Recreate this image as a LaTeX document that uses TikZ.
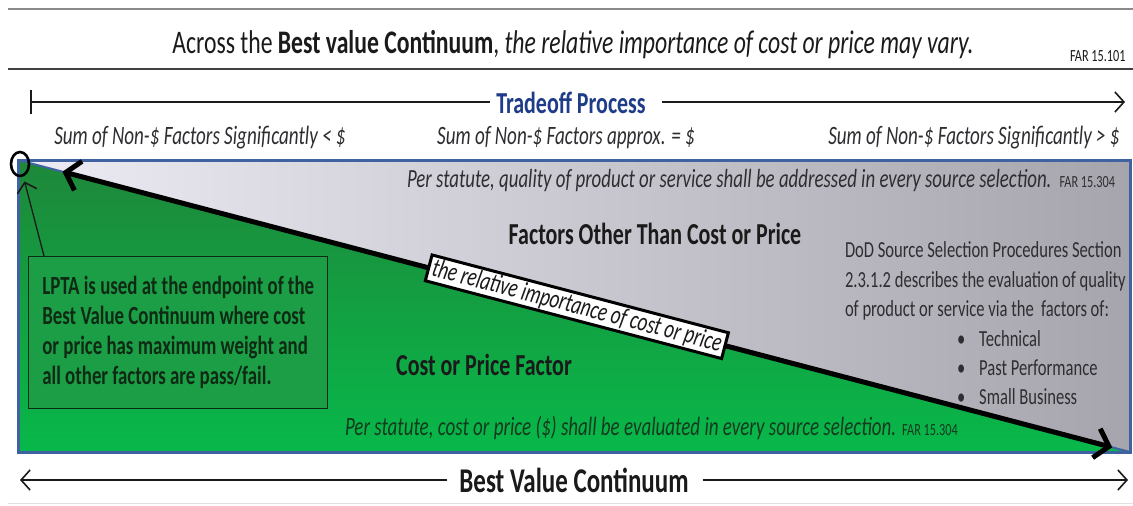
\documentclass[tikz,border=0pt]{standalone}
\usepackage{fontspec}
\setmainfont{Carlito}[FakeStretch=0.72]
\usetikzlibrary{arrows.meta,calc,shapes.geometric}

\definecolor{ink}{HTML}{1A1A1A}
\definecolor{rulegray}{HTML}{8A8A8A}
\definecolor{navy}{HTML}{1F3C88}
\definecolor{frameblue}{HTML}{3F62A0}
\definecolor{greenA}{HTML}{1E873A}
\definecolor{greenB}{HTML}{08B84A}
\definecolor{grayA}{HTML}{EDEBF3}
\definecolor{grayB}{HTML}{A6A5AD}
\definecolor{boxgreen}{HTML}{1C9E46}
\definecolor{darkgreen}{HTML}{0F2A14}
\definecolor{statgreen}{HTML}{143A1E}
\definecolor{textgray}{HTML}{2E2E32}

\newcommand\fsz[2]{\fontsize{#1}{#2}\selectfont}

\begin{document}
\begin{tikzpicture}[x=1pt,y=-1pt,
  txt/.style={inner sep=0pt, outer sep=0pt, text=ink},
  thinarrow/.style={line width=1.6pt, draw=ink,
    -{Straight Barb[length=9pt,width=20pt,line width=1.6pt]}},
  bigarrow/.style={line width=5pt, draw=black,
    {Straight Barb[length=13pt,width=30pt,line width=5pt]}-{Straight Barb[length=13pt,width=30pt,line width=5pt]}},
  bigfont/.style={font=\fsz{30.5}{36}\bfseries},
  sumfont/.style={font=\fsz{26.5}{30}\itshape, text=textgray},
]
\useasboundingbox (0,0) rectangle (1133,506);
\fill[white] (0,0) rectangle (1133,506);

% header rules
\draw[rulegray, line width=1.2pt] (8,9) -- (1133,9);
\draw[black!75, line width=2.8pt] (8,69) -- (1133,69);
\draw[black!12, line width=1pt] (8,503) -- (1133,503);

% title
\node[txt, font=\fsz{32.9}{38}] (title) at (573,45)
  {Across the \textbf{Best value Continuum}, \textit{the relative importance of cost or price may vary.}};
\node[txt, font=\fsz{17}{20}, anchor=west] (far101) at (1070,56) {FAR 15.101};

% tradeoff process scale
\node[txt, bigfont, text=navy] (trade) at (571,103) {Tradeoff Process};
\coordinate (tL) at (30,102);
\coordinate (tR) at (1125,102);
\draw[line width=1.6pt, draw=ink, {Bar[width=24pt,line width=1.6pt]}-] (tL) -- ($(trade.west)+(-6,-1)$);
\draw[thinarrow] ($(trade.east)+(16,-1)$) -- (tR);

\node[txt, sumfont] (sumlo) at (200,138) {Sum of Non-\$ Factors Significantly < \$};
\node[txt, sumfont] (sumeq) at (566,138) {Sum of Non-\$ Factors approx. = \$};
\node[txt, sumfont] (sumhi) at (974,138) {Sum of Non-\$ Factors Significantly > \$};

% continuum panel: non-price share above the diagonal, price share below
\coordinate (hA) at (18,160);
\coordinate (hB) at (1130,452);
\shade[left color=grayA, right color=grayB] (hA) -- (1130,160) -- (hB) -- cycle;
\shade[top color=greenA, bottom color=greenB] (hA) -- (hB) -- (18,452) -- cycle;
\draw[frameblue, line width=2pt] (hA) -- (hB);
\draw[frameblue, line width=3pt] (18,160) rectangle (1130,452);

% panel texts
\node[txt, font=\fsz{26.2}{30}\itshape, text=textgray, anchor=west] (stattop) at (407,181)
  {Per statute, quality of product or service shall be addressed in every source selection.\hspace{8pt}{\upshape\fsz{17}{20}FAR 15.304}};
\node[txt, bigfont] (nonprice) at (655,234) {Factors Other Than Cost or Price};
\node[txt, bigfont] (price) at (484,365) {Cost or Price Factor};
\node[txt, font=\fsz{26.4}{30}\itshape, text=statgreen, anchor=west] (statbot) at (345,428)
  {Per statute, cost or price (\$) shall be evaluated in every source selection.\hspace{6pt}{\upshape\fsz{17}{20}FAR 15.304}};

\node[txt, font=\fsz{23}{29.4}, text=textgray, align=left, anchor=north west] (dod) at (845,242)
  {DoD Source Selection Procedures Section\\
   2.3.1.2 describes the evaluation of quality\\
   of product or service via the\ \ factors of:\\
   \hspace*{112pt}•\hspace{14pt}Technical\\
   \hspace*{112pt}•\hspace{14pt}Past Performance\\
   \hspace*{112pt}•\hspace{14pt}Small Business};

% diagonal arrow with its label
\coordinate (dA) at ($(hA)!0.04!(hB)$);
\coordinate (dB) at ($(hA)!0.984!(hB)$);
\draw[bigarrow] (dA) -- (dB)
  node[pos=0.49, sloped, fill=white, draw=black, line width=3pt, inner xsep=4pt, inner ysep=2pt,
       font=\fsz{26.5}{30}\itshape, text=ink] (rel) {the relative importance of cost or price};

% LPTA call-out
\node[draw=darkgreen, line width=1.4pt, fill=boxgreen, anchor=north west,
      minimum width=299pt, minimum height=152pt, align=left,
      inner xsep=10pt, font=\fsz{26.2}{30}\bfseries, text=darkgreen] (lpta) at (28,256)
  {LPTA is used at the endpoint of the\\
   Best Value Continuum where cost\\
   or price has maximum weight and\\
   all other factors are pass/fail.};
\node[ellipse, draw=black, line width=2.6pt, minimum width=18pt, minimum height=24pt, inner sep=0pt] (circ) at (20,164) {};
\draw[thinarrow, line width=1.3pt, shorten >=5pt] ($(lpta.north west)+(16,0)$) -- (circ);

% best value continuum scale
\node[txt, font=\fsz{34.7}{40}\bfseries] (bvc) at (574,480) {Best Value Continuum};
\coordinate (bL) at (20,480);
\coordinate (bR) at (1128,480);
\draw[thinarrow] ($(bvc.west)+(-12,0)$) -- (bL);
\draw[thinarrow] ($(bvc.east)+(14,0)$) -- (bR);
\end{tikzpicture}
\end{document}
